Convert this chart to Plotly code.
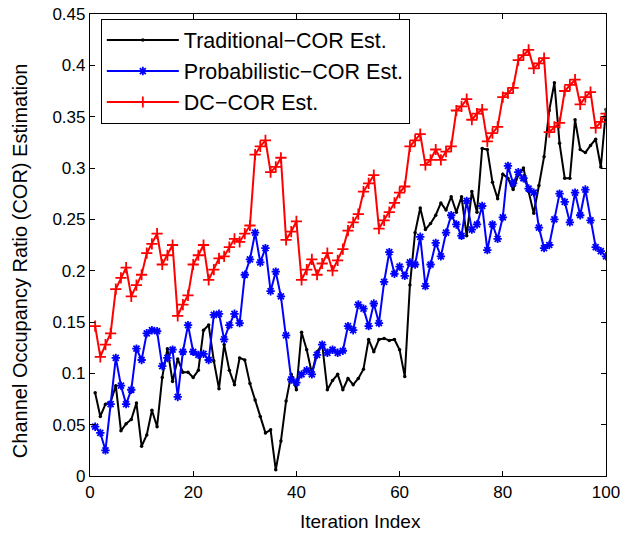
import plotly.graph_objects as go

# Iteration index 1..100
iterations = list(range(1, 101))

# Traditional COR estimate
traditional_cor = [
    0.081, 0.058, 0.070, 0.072, 0.088, 0.044, 0.051, 0.055, 0.071, 0.029,
    0.040, 0.064, 0.048, 0.096, 0.124, 0.092, 0.114, 0.101, 0.101, 0.096,
    0.103, 0.142, 0.147, 0.112, 0.085, 0.128, 0.103, 0.089, 0.115, 0.113,
    0.090, 0.074, 0.058, 0.042, 0.045, 0.006, 0.034, 0.073, 0.099, 0.084,
    0.140, 0.123, 0.100, 0.121, 0.128, 0.084, 0.093, 0.099, 0.084, 0.095,
    0.089, 0.095, 0.104, 0.133, 0.121, 0.133, 0.134, 0.132, 0.133, 0.123,
    0.097, 0.186, 0.237, 0.261, 0.240, 0.246, 0.254, 0.266, 0.259, 0.272,
    0.257, 0.272, 0.234, 0.277, 0.257, 0.319, 0.318, 0.286, 0.270, 0.294,
    0.290, 0.279, 0.293, 0.300, 0.277, 0.256, 0.283, 0.311, 0.356, 0.383,
    0.324, 0.290, 0.290, 0.347, 0.318, 0.315, 0.322, 0.328, 0.301, 0.357,
]

# Probabilistic COR estimate
probabilistic_cor = [
    0.048, 0.042, 0.025, 0.070, 0.115, 0.088, 0.070, 0.084, 0.124, 0.113,
    0.139, 0.142, 0.141, 0.107, 0.115, 0.123, 0.077, 0.121, 0.147, 0.121,
    0.118, 0.119, 0.113, 0.157, 0.158, 0.133, 0.147, 0.158, 0.149, 0.196,
    0.211, 0.237, 0.208, 0.222, 0.180, 0.199, 0.175, 0.137, 0.094, 0.091,
    0.099, 0.103, 0.099, 0.118, 0.128, 0.120, 0.123, 0.120, 0.122, 0.146,
    0.142, 0.167, 0.163, 0.146, 0.168, 0.149, 0.189, 0.218, 0.197, 0.204,
    0.195, 0.208, 0.206, 0.233, 0.185, 0.206, 0.227, 0.214, 0.237, 0.254,
    0.245, 0.234, 0.268, 0.240, 0.245, 0.263, 0.220, 0.245, 0.231, 0.252,
    0.302, 0.285, 0.296, 0.290, 0.280, 0.276, 0.242, 0.222, 0.225, 0.250,
    0.275, 0.267, 0.247, 0.276, 0.254, 0.279, 0.249, 0.223, 0.219, 0.214,
]

# DC-COR estimate
dc_cor = [
    0.146, 0.116, 0.128, 0.139, 0.182, 0.193, 0.203, 0.175, 0.186, 0.196,
    0.217, 0.226, 0.236, 0.206, 0.215, 0.225, 0.156, 0.167, 0.176, 0.206,
    0.215, 0.225, 0.191, 0.201, 0.212, 0.214, 0.223, 0.231, 0.228, 0.236,
    0.244, 0.313, 0.321, 0.327, 0.296, 0.301, 0.310, 0.230, 0.238, 0.248,
    0.191, 0.201, 0.211, 0.196, 0.207, 0.217, 0.200, 0.210, 0.221, 0.239,
    0.247, 0.255, 0.277, 0.285, 0.293, 0.241, 0.249, 0.257, 0.266, 0.276,
    0.282, 0.321, 0.327, 0.333, 0.303, 0.308, 0.318, 0.308, 0.316, 0.321,
    0.356, 0.360, 0.367, 0.347, 0.353, 0.357, 0.326, 0.334, 0.340, 0.369,
    0.373, 0.378, 0.405, 0.410, 0.415, 0.397, 0.402, 0.407, 0.335, 0.340,
    0.344, 0.375, 0.381, 0.386, 0.362, 0.369, 0.374, 0.339, 0.345, 0.353,
]

series_names = ["Traditional\u2212COR Est.", "Probabilistic\u2212COR Est.", "DC\u2212COR Est."]

x_ticks = [0, 20, 40, 60, 80, 100]
y_ticks = [0, 0.05, 0.1, 0.15, 0.2, 0.25, 0.3, 0.35, 0.4, 0.45]
y_tick_text = ["0", "0.05", "0.1", "0.15", "0.2", "0.25", "0.3", "0.35", "0.4", "0.45"]

x_title = "Iteration Index"
y_title = "Channel Occupancy Ratio (COR) Estimation"

FONT = "Liberation Sans, Arial, Helvetica, sans-serif"

fig = go.Figure()

fig.add_trace(go.Scatter(
    x=iterations, y=traditional_cor, name=series_names[0], mode="lines+markers",
    legendgroup="a",
    line=dict(color="#000000", width=2),
    marker=dict(symbol="circle", size=3.5, color="#000000"),
))
fig.add_trace(go.Scatter(
    x=iterations, y=probabilistic_cor, name=series_names[1], mode="lines+markers",
    legendgroup="b",
    line=dict(color="#0000ff", width=2),
    marker=dict(symbol="asterisk-open", size=7, color="#0000ff",
                line=dict(color="#0000ff", width=1.8)),
))
fig.add_trace(go.Scatter(
    x=iterations, y=dc_cor, name=series_names[2], mode="lines+markers",
    legendgroup="c",
    line=dict(color="#ff0000", width=2),
    marker=dict(symbol="cross-thin-open", size=8, color="#ff0000",
                line=dict(color="#ff0000", width=1.8)),
))

axis_common = dict(
    showgrid=False, zeroline=False, showline=True, linecolor="#000000",
    linewidth=1.2, mirror="ticks", ticks="inside", ticklen=5, tickwidth=1,
    tickcolor="#000000", tickfont=dict(family=FONT, size=17, color="#000000"),
    automargin=False,
)

fig.update_xaxes(range=[0, 100], tickvals=x_ticks, **axis_common)
fig.update_yaxes(range=[0, 0.45], tickvals=y_ticks, ticktext=y_tick_text, **axis_common)

# Axis labels placed as paper-referenced annotations
fig.add_annotation(
    text=x_title, xref="paper", yref="paper", x=0.525, y=0, yshift=-45,
    xanchor="center", yanchor="middle", showarrow=False,
    font=dict(family=FONT, size=19, color="#000000"),
)
fig.add_annotation(
    text=y_title, xref="paper", yref="paper", x=0, y=0.465, xshift=-70,
    xanchor="center", yanchor="middle", showarrow=False, textangle=-90,
    font=dict(family=FONT, size=20, color="#000000"),
)

fig.update_layout(
    width=627, height=534,
    margin=dict(l=90, r=21, t=14, b=58),
    paper_bgcolor="#ffffff", plot_bgcolor="#ffffff",
    font=dict(family=FONT, color="#000000"),
    showlegend=True,
    legend=dict(
        x=0.021, y=0.99, xanchor="left", yanchor="top",
        bgcolor="#ffffff", bordercolor="#000000", borderwidth=1,
        font=dict(family=FONT, size=21.5, color="#000000"),
        itemwidth=72, tracegroupgap=0,
    ),
)

fig.write_html("out.html")
